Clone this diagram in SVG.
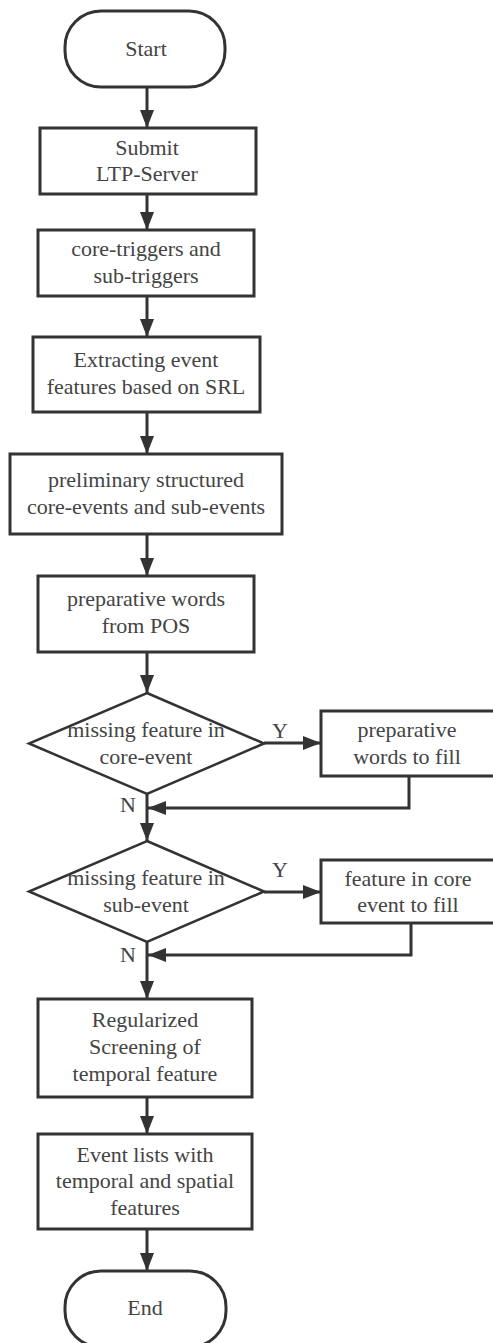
<svg xmlns="http://www.w3.org/2000/svg" width="493" height="1343" viewBox="0 0 493 1343">
<style>
.box{fill:#fff;stroke:#333;stroke-width:3}
.dia{fill:#fff;stroke:#333;stroke-width:2.5}
text{font-family:'Liberation Serif','Times New Roman',Times,serif;font-size:22px;fill:#444;text-anchor:middle}
.c{fill:none;stroke:#333;stroke-width:3}
</style>
<defs>
<marker id="ah" markerUnits="userSpaceOnUse" markerWidth="20" markerHeight="16" viewBox="0 0 20 16" refX="18" refY="8" orient="auto">
<path d="M0,1 L18,8 L0,15 Z" fill="#333"/>
</marker>
</defs>
<g id="connectors">
<line class="c" x1="147" y1="87" x2="147" y2="128" marker-end="url(#ah)"/>
<line class="c" x1="147" y1="194" x2="147" y2="230" marker-end="url(#ah)"/>
<line class="c" x1="147" y1="296" x2="147" y2="337" marker-end="url(#ah)"/>
<line class="c" x1="147" y1="412" x2="147" y2="454" marker-end="url(#ah)"/>
<line class="c" x1="147" y1="534" x2="147" y2="576" marker-end="url(#ah)"/>
<line class="c" x1="147" y1="652" x2="147" y2="693" marker-end="url(#ah)"/>
<line class="c" x1="147" y1="794" x2="147" y2="841" marker-end="url(#ah)"/>
<line class="c" x1="264" y1="743" x2="321" y2="743" marker-end="url(#ah)"/>
<polyline class="c" points="409,776 409,808 148,808" marker-end="url(#ah)"/>
<line class="c" x1="147" y1="942" x2="147" y2="999" marker-end="url(#ah)"/>
<line class="c" x1="264" y1="892" x2="321" y2="892" marker-end="url(#ah)"/>
<polyline class="c" points="411,923 411,955 148,955" marker-end="url(#ah)"/>
<line class="c" x1="147" y1="1097" x2="147" y2="1134" marker-end="url(#ah)"/>
<line class="c" x1="147" y1="1229" x2="147" y2="1271" marker-end="url(#ah)"/>
<text x="280" y="738">Y</text>
<text x="128" y="812">N</text>
<text x="280" y="877">Y</text>
<text x="128" y="962">N</text>
</g>
<g id="start">
<rect class="box" x="65" y="11" width="160" height="76" rx="36"/>
<text x="146" y="56">Start</text>
</g>
<g id="submit">
<rect class="box" x="40" y="128" width="216" height="66"/>
<text x="147" y="155">Submit</text>
<text x="147" y="181">LTP-Server</text>
</g>
<g id="triggers">
<rect class="box" x="38" y="230" width="216" height="66"/>
<text x="146" y="256">core-triggers and</text>
<text x="146" y="283">sub-triggers</text>
</g>
<g id="extracting">
<rect class="box" x="33" y="337" width="227" height="75"/>
<text x="146" y="367">Extracting event</text>
<text x="146" y="394">features based on SRL</text>
</g>
<g id="preliminary">
<rect class="box" x="10" y="454" width="272" height="80"/>
<text x="146" y="487">preliminary structured</text>
<text x="146" y="514">core-events and sub-events</text>
</g>
<g id="preparative">
<rect class="box" x="38" y="576" width="216" height="76"/>
<text x="146" y="606">preparative words</text>
<text x="146" y="633">from POS</text>
</g>
<g id="decision1">
<polygon class="dia" points="147,693 264,743.5 147,794 29,743.5"/>
<text x="146" y="737">missing feature in</text>
<text x="146" y="764">core-event</text>
</g>
<g id="fill1">
<rect class="box" x="321" y="711" width="176" height="65"/>
<text x="407" y="737">preparative</text>
<text x="407" y="764">words to fill</text>
</g>
<g id="decision2">
<polygon class="dia" points="147,841 264,891.5 147,942 29,891.5"/>
<text x="146" y="885">missing feature in</text>
<text x="146" y="912">sub-event</text>
</g>
<g id="fill2">
<rect class="box" x="321" y="860" width="176" height="63"/>
<text x="408" y="886">feature in core</text>
<text x="408" y="912">event to fill</text>
</g>
<g id="regularized">
<rect class="box" x="38" y="999" width="214" height="98"/>
<text x="145" y="1027">Regularized</text>
<text x="145" y="1054">Screening of</text>
<text x="145" y="1081">temporal feature</text>
</g>
<g id="eventlists">
<rect class="box" x="38" y="1134" width="214" height="95"/>
<text x="145" y="1162">Event lists with</text>
<text x="145" y="1188">temporal and spatial</text>
<text x="145" y="1215">features</text>
</g>
<g id="end">
<rect class="box" x="65" y="1271" width="161" height="76" rx="36"/>
<text x="145" y="1315">End</text>
</g>
</svg>
